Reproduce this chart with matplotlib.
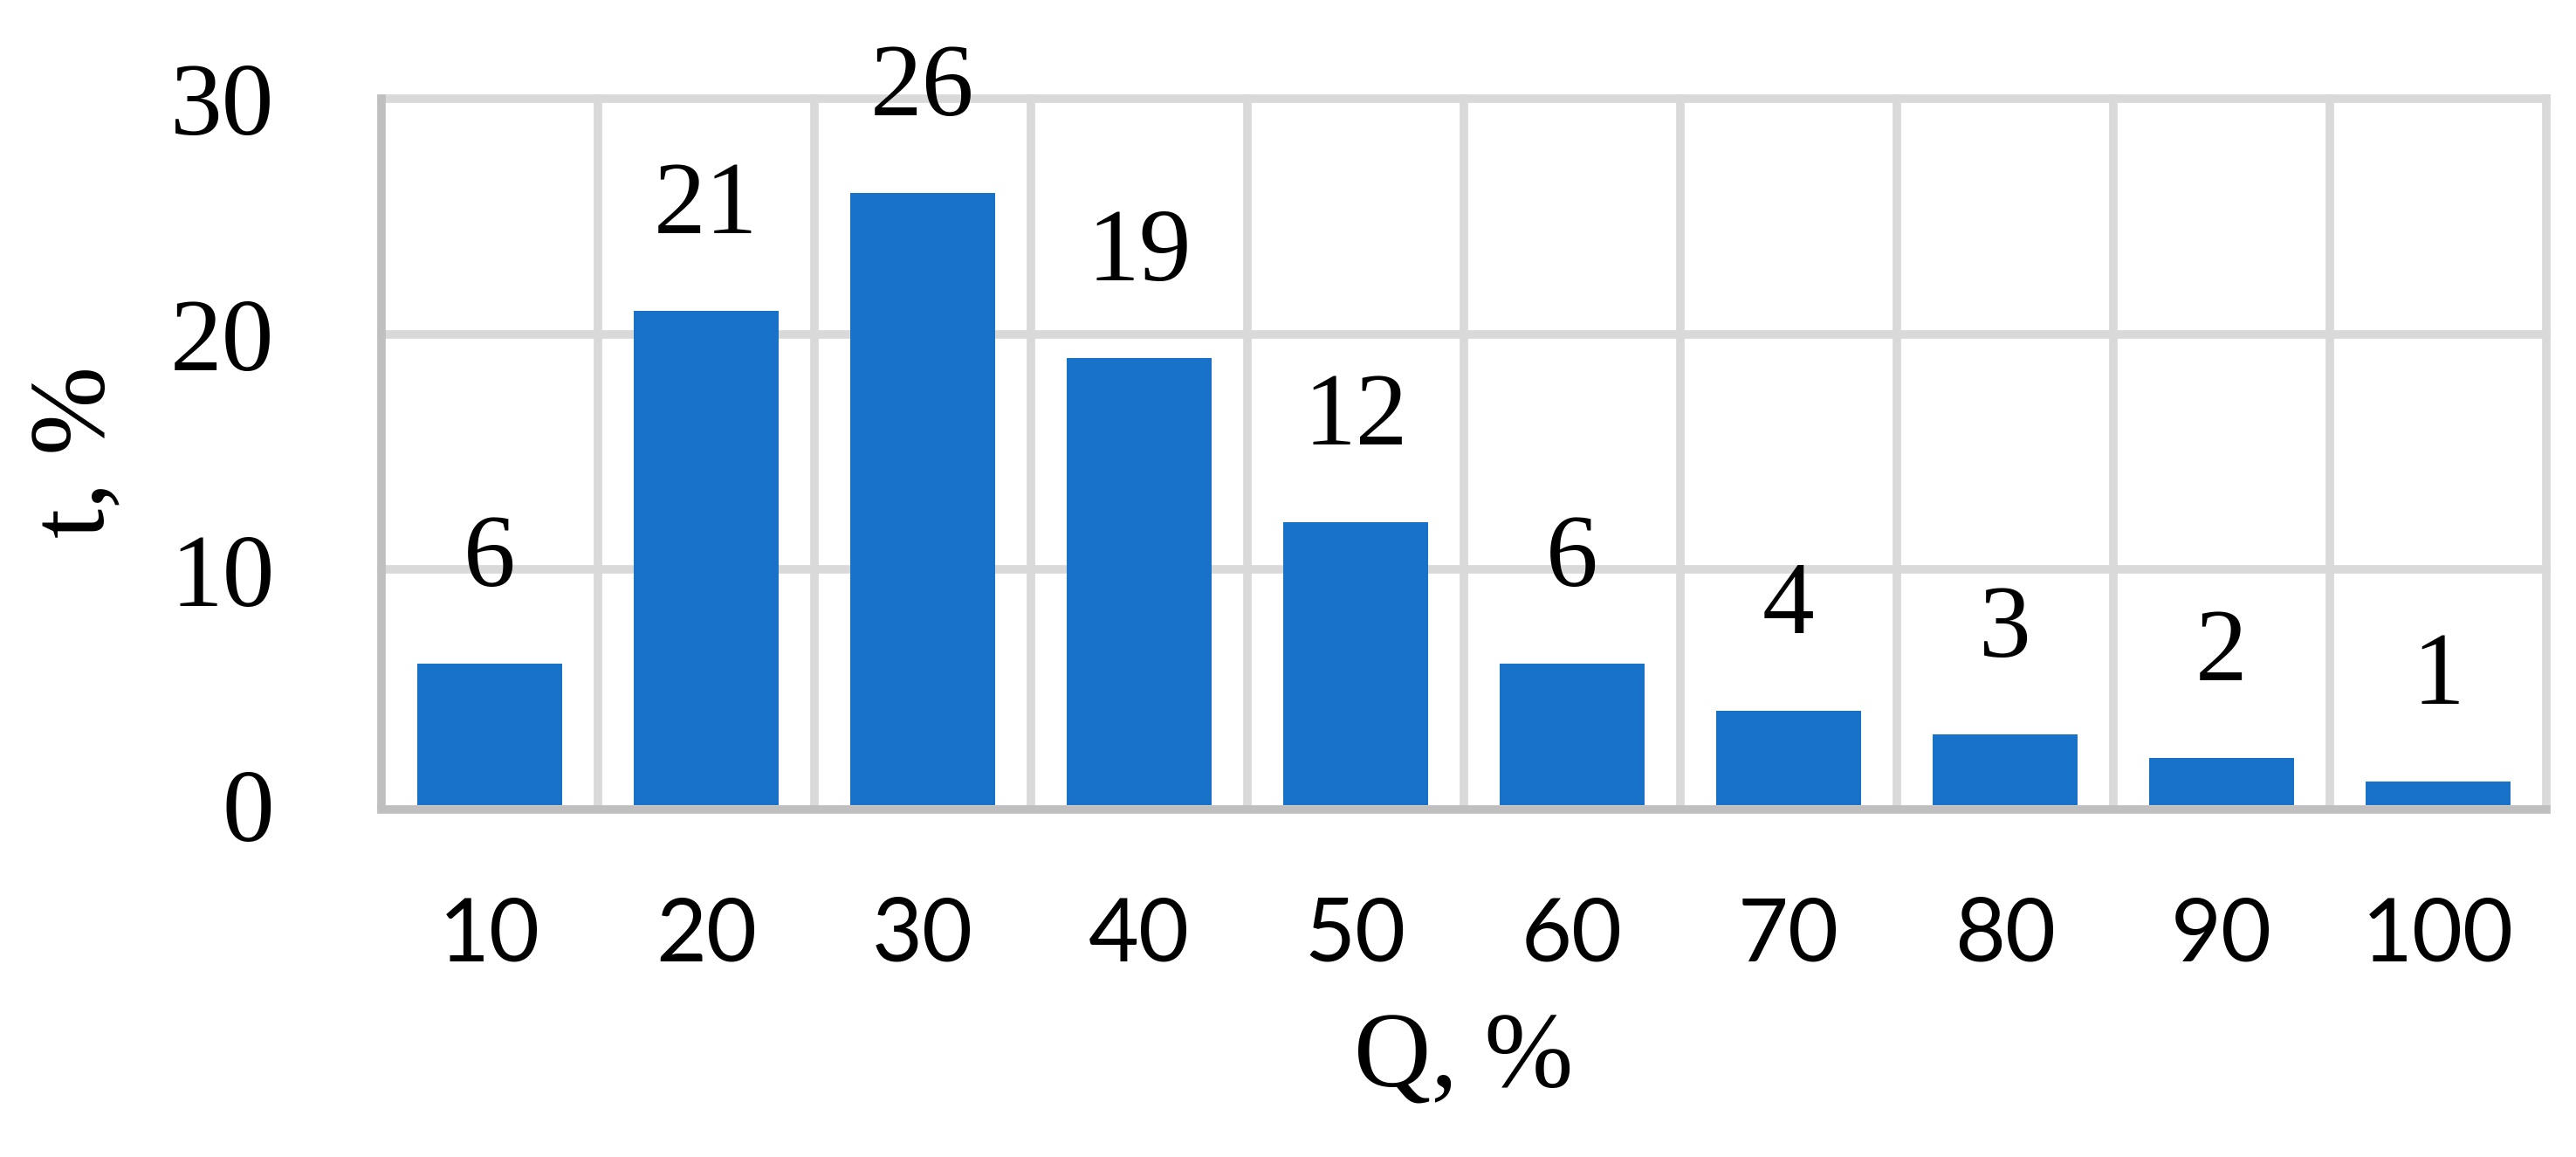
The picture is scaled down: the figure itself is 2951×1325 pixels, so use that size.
import matplotlib
matplotlib.use("Agg")
import matplotlib.pyplot as plt

# data
categories = ["10", "20", "30", "40", "50", "60", "70", "80", "90", "100"]
values = [6, 21, 26, 19, 12, 6, 4, 3, 2, 1]
y_ticks = [0, 10, 20, 30]

BAR_COLOR = "#1872c7"
GRID_COLOR = "#d9d9d9"
SPINE_COLOR = "#bfbfbf"
SERIF = ["Liberation Serif", "DejaVu Serif"]
SANS = ["Lato", "DejaVu Sans"]

fig = plt.figure(figsize=(29.51, 13.25), dpi=100)
ax = fig.add_axes([0.148, 0.3042, 0.8405, 0.6106])

x = list(range(len(categories)))
ax.bar(x, values, width=0.67, color=BAR_COLOR, zorder=3)

ax.set_xlim(-0.5, len(categories) - 0.5)
ax.set_ylim(0, 30)

# grid: horizontal at y ticks, vertical between categories
for yv in y_ticks[1:]:
    ax.axhline(yv, color=GRID_COLOR, lw=7, zorder=1, clip_on=False)
for i in range(1, len(categories) + 1):
    ax.axvline(i - 0.5, color=GRID_COLOR, lw=7, zorder=1, clip_on=False)

for side in ("top", "right"):
    ax.spines[side].set_visible(False)
ax.spines["left"].set_color(SPINE_COLOR)
ax.spines["left"].set_linewidth(7)
ax.spines["bottom"].set_color(SPINE_COLOR)
ax.spines["bottom"].set_linewidth(7)
ax.spines["bottom"].set_position(("outward", 3.5))
ax.spines["bottom"].set_zorder(4)

# value labels above bars
for xi, v in zip(x, values):
    ax.text(xi, v + 3.3, str(v), ha="center", va="baseline",
            fontsize=86, family=SERIF, color="black")

ax.set_yticks(y_ticks)
ax.set_yticklabels([str(t) for t in y_ticks], family=SERIF, fontsize=86)
ax.set_xticks(x)
ax.set_xticklabels(categories, family=SANS, fontsize=72)
ax.tick_params(axis="y", length=0, pad=88)
ax.tick_params(axis="x", length=0, pad=72)

ax.set_xlabel("Q, %", family=SERIF, fontsize=88, labelpad=30)
ax.set_ylabel("t, %", family=SERIF, fontsize=88, labelpad=36)

fig.savefig("out.png", dpi=100, facecolor="white")
